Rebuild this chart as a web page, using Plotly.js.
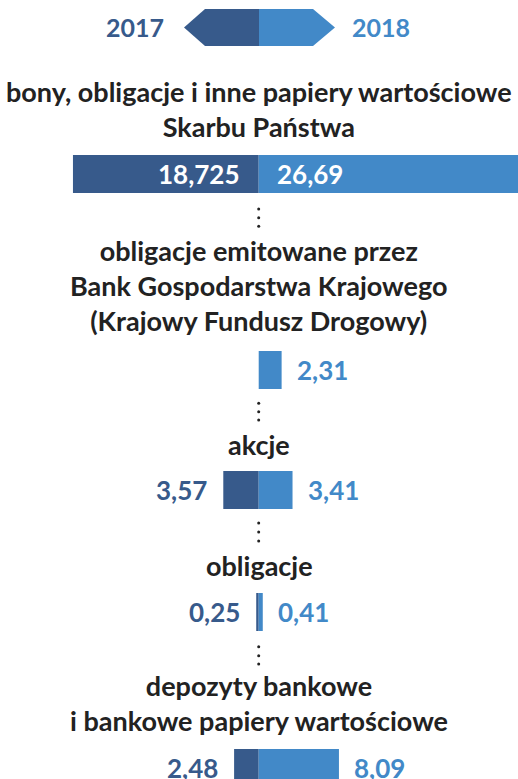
<!DOCTYPE html>
<html><head><meta charset="utf-8">
<script src="https://cdn.plot.ly/plotly-3.0.1.min.js"></script>
<style>html,body{margin:0;padding:0;background:#fff}#chart{width:518px;height:779px}</style>
</head><body><div id="chart"></div>
<script>
// ---- data ----
const categories = [
  "bony, obligacje i inne papiery wartościowe<br>Skarbu Państwa",
  "obligacje emitowane przez<br>Bank Gospodarstwa Krajowego<br>(Krajowy Fundusz Drogowy)",
  "akcje",
  "obligacje",
  "depozyty bankowe<br>i bankowe papiery wartościowe"
];
const years = ["2017", "2018"];
const values2017 = [18.725, null, 3.57, 0.25, 2.48];
const values2018 = [26.69, 2.31, 3.41, 0.41, 8.09];

// ---- style / layout ----
const W = 518, H = 779;
const DARK = "#375a8b", LIGHT = "#4289c8", TXT = "#222222";
const FONT = "Lato";
const fy = p => 1 - p / H;            // pixel row -> paper y
const fx = p => p / W;                // pixel col -> paper x
const rowBars = [[155,193],[351,389],[471,509],[593,631],[749,787]];
const titleY = [109, 285, 444, 565, 703];
const dotGroups = [[209,217.7,226.3],[403.3,411.7,420],[523,532,541],[646.7,655.7,664]];
const insideMin = 10;
const fmt = v => String(v).replace(".", ",");

const traces = [];
const annotations = [];
const layout = {
  width: W, height: H,
  margin: {l:0, r:0, t:0, b:0},
  paper_bgcolor: "#fff", plot_bgcolor: "rgba(0,0,0,0)",
  showlegend: false, barmode: "relative",
  hovermode: false,
  font: {family: FONT, color: TXT},
  xaxis: {domain:[0,1], range:[-26.08, 26.14], visible:false, fixedrange:true},
  shapes: [], annotations
};

categories.forEach((cat, i) => {
  const yn = i === 0 ? "y" : "y" + (i + 1);
  const yk = i === 0 ? "yaxis" : "yaxis" + (i + 1);
  const [top, bot] = rowBars[i];
  const d0 = Math.max(0, fy(bot)), d1 = fy(top);
  const lo = bot > H ? 0.5 - (H - top) / (bot - top) : -0.5;
  layout[yk] = {domain:[d0, d1], range:[lo, 0.5], type:"category", visible:false, fixedrange:true};
  const v17 = values2017[i], v18 = values2018[i];
  if (v17 != null) {
    traces.push({type:"bar", orientation:"h", x:[-v17], y:[cat], width:1, name:years[0],
      marker:{color:DARK, line:{width:0}}, xaxis:"x", yaxis:yn, hoverinfo:"skip"});
    const inside = v17 > insideMin;
    annotations.push({xref:"x", yref:yn, x: inside ? 0 : -v17, y: cat, text: fmt(v17),
      xanchor:"right", yanchor:"middle", xshift: inside ? -18 : -14, showarrow:false,
      font:{family:FONT, size:26, weight:700, color: inside ? "#fff" : DARK}});
  }
  if (v18 != null) {
    traces.push({type:"bar", orientation:"h", x:[v18], y:[cat], width:1, name:years[1],
      marker:{color:LIGHT, line:{width:0}}, xaxis:"x", yaxis:yn, hoverinfo:"skip"});
    const inside = v18 > insideMin;
    annotations.push({xref:"x", yref:yn, x: inside ? 0 : v18, y: cat, text: fmt(v18),
      xanchor:"left", yanchor:"middle", xshift: inside ? 16 : 13, showarrow:false,
      font:{family:FONT, size:26, weight:700, color: inside ? "#fff" : LIGHT}});
  }
  annotations.push({xref:"paper", yref:"paper", x:0.5, y: fy(titleY[i]), text: cat,
    xanchor:"center", yanchor:"middle", showarrow:false, align:"center",
    font:{family:FONT, size:27, weight:700, color:TXT}});
});

// separator dots
dotGroups.forEach(g => g.forEach(p => {
  layout.shapes.push({type:"circle", xref:"x", yref:"paper",
    xsizemode:"pixel", ysizemode:"pixel", xanchor:0, yanchor:fy(p),
    x0:-1.5, x1:1.5, y0:-1.5, y1:1.5, fillcolor:TXT, line:{width:0}});
}));

// header legend arrow
const path = pts => "M" + pts.map(p => fx(p[0]) + "," + fy(p[1])).join("L") + "Z";
layout.shapes.push({type:"path", xref:"paper", yref:"paper", line:{width:0}, fillcolor:DARK,
  path: path([[259,9],[205,9],[184,27.5],[205,46],[259,46]])});
layout.shapes.push({type:"path", xref:"paper", yref:"paper", line:{width:0}, fillcolor:LIGHT,
  path: path([[259,9],[313,9],[335,27.5],[313,46],[259,46]])});
annotations.push({xref:"paper", yref:"paper", x:fx(135), y:fy(27), text:years[0], showarrow:false,
  xanchor:"center", yanchor:"middle", font:{family:FONT, size:25, weight:700, color:DARK}});
annotations.push({xref:"paper", yref:"paper", x:fx(381), y:fy(27), text:years[1], showarrow:false,
  xanchor:"center", yanchor:"middle", font:{family:FONT, size:25, weight:700, color:LIGHT}});

Plotly.newPlot("chart", traces, layout, {staticPlot:true, displayModeBar:false});
</script></body></html>
